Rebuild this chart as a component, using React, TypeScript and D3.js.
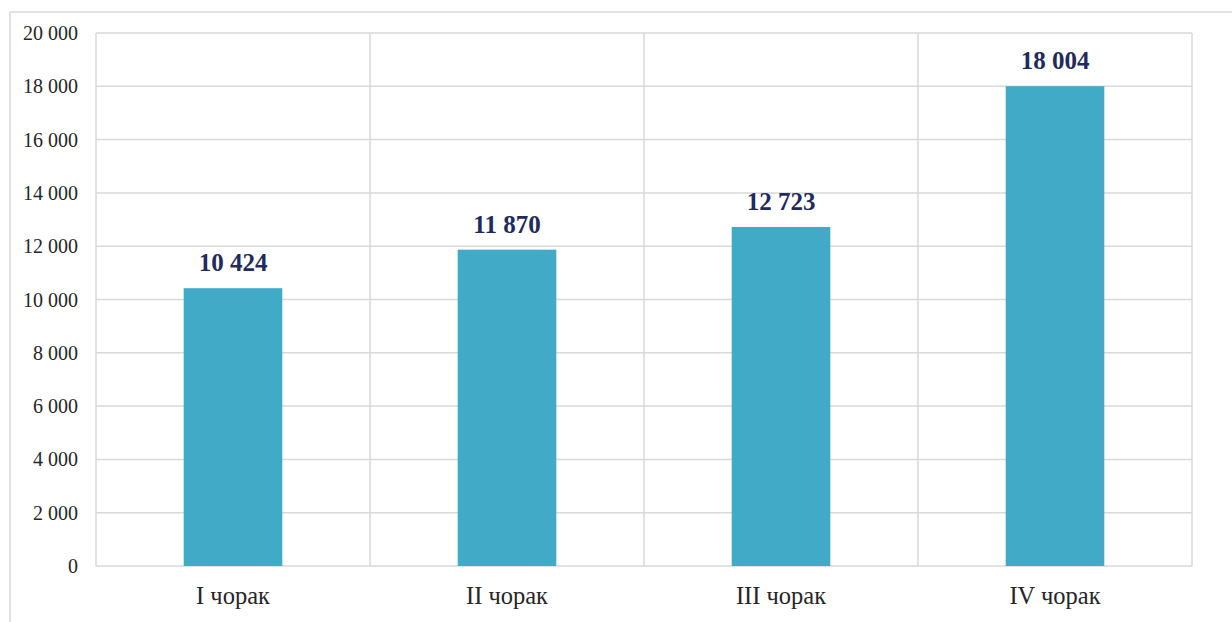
import React from "react";
import * as d3 from "d3";

const categories = ["I чорак", "II чорак", "III чорак", "IV чорак"];
const values = [10424, 11870, 12723, 18004];
const yTicks = [0, 2000, 4000, 6000, 8000, 10000, 12000, 14000, 16000, 18000, 20000];

const W = 1232;
const H = 622;
const M = { left: 96, right: 1192, top: 33, bottom: 566 };

const fmt = (v: number) => d3.format(",")(v).replace(/,/g, " ");

export default function App() {
  const x = d3.scaleBand<string>().domain(categories).range([M.left, M.right]).paddingInner(0).paddingOuter(0);
  const y = d3.scaleLinear().domain([0, 20000]).range([M.bottom, M.top]);
  const bw = x.bandwidth() * 0.36;
  const font = "Liberation Serif";
  return (
    <svg width={W} height={H} style={{ position: "absolute", left: 0, top: 0, background: "#fff" }}>
      <rect x={10} y={12} width={W + 20} height={H + 20} fill="#fff" stroke="#d9d9d9" strokeWidth={1.5} />
      {yTicks.map((t) => (
        <line key={"g" + t} x1={M.left} x2={M.right} y1={y(t)} y2={y(t)} stroke="#d9d9d9" strokeWidth={1.5} />
      ))}
      {categories.map((c) => (
        <line key={"v" + c} x1={x(c)!} x2={x(c)!} y1={M.top} y2={M.bottom} stroke="#d9d9d9" strokeWidth={1.5} />
      ))}
      <line x1={M.right} x2={M.right} y1={M.top} y2={M.bottom} stroke="#d9d9d9" strokeWidth={1.5} />
      {yTicks.map((t) => (
        <text key={"t" + t} x={78} y={y(t)} dy="0.35em" textAnchor="end" style={{ fontFamily: font }} fontSize={20} fill="#262626">
          {fmt(t)}
        </text>
      ))}
      {categories.map((c, i) => {
        const cx = x(c)! + x.bandwidth() / 2;
        return (
          <g key={c}>
            <rect x={cx - bw / 2} y={y(values[i])} width={bw} height={y(0) - y(values[i])} fill="#41abc7" />
            <text x={cx} y={y(values[i]) - 17} textAnchor="middle" style={{ fontFamily: font }} fontSize={25} fontWeight="bold" fill="#1f2a5e">
              {fmt(values[i])}
            </text>
            <text x={cx} y={604} textAnchor="middle" style={{ fontFamily: font }} fontSize={24.5} fill="#262626">
              {c}
            </text>
          </g>
        );
      })}
    </svg>
  );
}
